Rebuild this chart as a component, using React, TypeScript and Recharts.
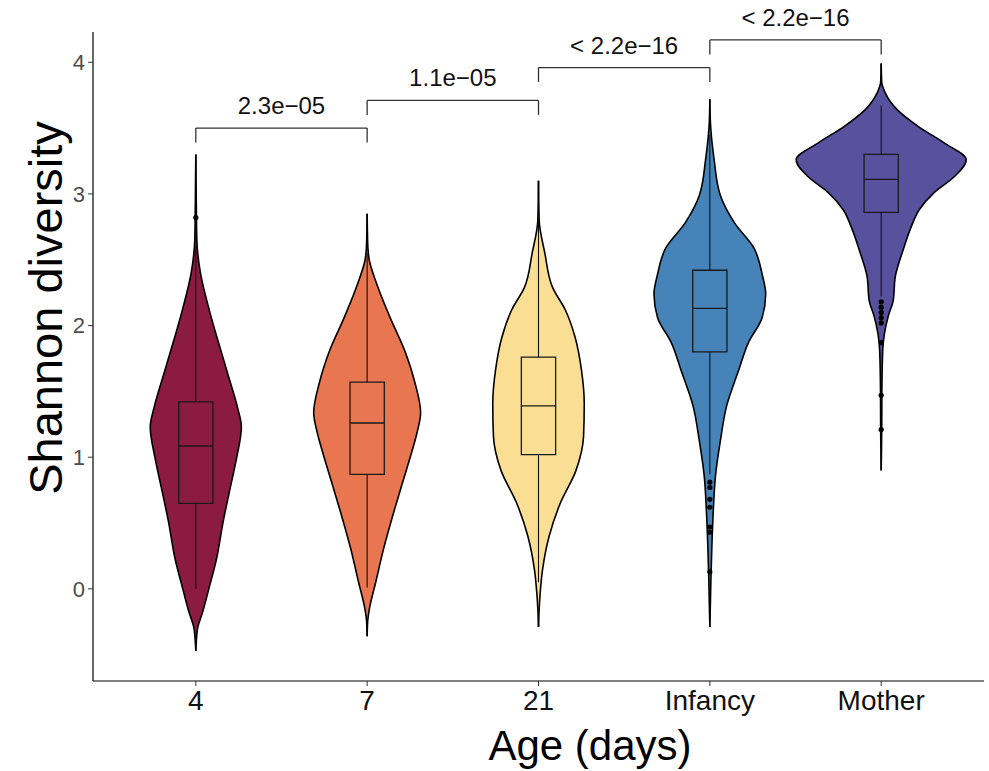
import React from 'react'
import {
  ComposedChart,
  Area,
  XAxis,
  YAxis,
  ReferenceArea,
  ReferenceLine,
  ReferenceDot,
  Label,
} from 'recharts'

const FONT = '"Liberation Sans", Arial, Helvetica, sans-serif'

const categories = ['4', '7', '21', 'Infancy', 'Mother']
const violinColors = ['#8C1B42', '#E87650', '#F9DE94', '#4683B8', '#58519E']

// violin outlines: [shannon, half width in group units], top to bottom
const violin4 = [
  [3.3, 0], [2.9, 0.003], [2.65, 0.006], [2.4, 0.027], [2.14, 0.074], [1.89, 0.128],
  [1.64, 0.185], [1.38, 0.243], [1.23, 0.266], [1.0, 0.239], [0.75, 0.198], [0.5, 0.158],
  [0.24, 0.123], [0.0, 0.076], [-0.18, 0.039], [-0.29, 0.012], [-0.4, 0.003], [-0.47, 0],
]
const violin7 = [
  [2.85, 0], [2.6, 0.004], [2.5, 0.012], [2.32, 0.055], [2.07, 0.131], [1.81, 0.219],
  [1.56, 0.28], [1.34, 0.312], [1.18, 0.29], [1.03, 0.258], [0.8, 0.205], [0.55, 0.148],
  [0.3, 0.095], [0.05, 0.05], [-0.16, 0.012], [-0.25, 0.003], [-0.36, 0],
]
const violin21 = [
  [3.1, 0], [2.8, 0.004], [2.55, 0.037], [2.29, 0.082], [2.12, 0.156], [1.91, 0.214],
  [1.66, 0.251], [1.41, 0.267], [1.16, 0.263], [0.9, 0.219], [0.65, 0.127], [0.4, 0.062],
  [0.14, 0.023], [-0.03, 0.01], [-0.15, 0.004], [-0.29, 0],
]
const violinInfancy = [
  [3.72, 0], [3.55, 0.003], [3.26, 0.025], [2.99, 0.061], [2.78, 0.144], [2.59, 0.257],
  [2.38, 0.307], [2.24, 0.326], [2.06, 0.305], [1.87, 0.225], [1.66, 0.168], [1.39, 0.098],
  [1.12, 0.061], [0.86, 0.033], [0.59, 0.02], [0.33, 0.012], [0.06, 0.006], [-0.29, 0],
]
const violinMother = [
  [3.99, 0], [3.85, 0.003], [3.77, 0.023], [3.64, 0.093], [3.51, 0.219], [3.39, 0.365],
  [3.26, 0.496], [3.13, 0.426], [3.01, 0.309], [2.88, 0.222], [2.75, 0.175], [2.57, 0.127],
  [2.37, 0.082], [2.19, 0.07], [2.07, 0.041], [1.94, 0.019], [1.81, 0.009], [1.5, 0.004],
  [1.2, 0.003], [0.9, 0],
]
const violins = [violin4, violin7, violin21, violinInfancy, violinMother]

// [whisker low, q1, median, q3, whisker high]
const boxStats = [
  [0.0, 0.65, 1.085, 1.42, 2.6],
  [0.01, 0.87, 1.26, 1.57, 2.55],
  [0.05, 1.02, 1.39, 1.76, 2.8],
  [0.87, 1.8, 2.13, 2.42, 3.45],
  [2.22, 2.86, 3.11, 3.3, 3.67],
]

const outliers4 = [2.82]
const outliers7: number[] = []
const outliers21: number[] = []
const outliersInfancy = [0.81, 0.77, 0.68, 0.62, 0.47, 0.43, 0.13]
const outliersMother = [2.18, 2.14, 2.1, 2.06, 2.02, 1.87, 1.47, 1.21]
const outliers = [outliers4, outliers7, outliers21, outliersInfancy, outliersMother]

const comparisons = [[1, 2], [2, 3], [3, 4], [4, 5]]
const bracketHeights = [3.5, 3.71, 3.96, 4.17]
const pValues = ['2.3e\u221205', '1.1e\u221205', '< 2.2e\u221216', '< 2.2e\u221216']

const yTicks = [0, 1, 2, 3, 4]

const BOX_HALF = 0.1
const TIP = 0.11

export default function App() {
  return (
    <div style={{ position: 'absolute', left: 0, top: 0, fontFamily: FONT, background: '#fff' }}>
      <ComposedChart
        width={989}
        height={771}
        layout="vertical"
        margin={{ top: 32, right: 5, bottom: 10, left: 0 }}
        style={{ fontFamily: FONT }}
      >
        <XAxis
          type="number"
          domain={[0.4, 5.6]}
          ticks={[1, 2, 3, 4, 5]}
          tickFormatter={(v) => categories[v - 1]}
          allowDataOverflow
          height={80}
          axisLine={{ stroke: '#000', strokeWidth: 1.2 }}
          tickLine={{ stroke: '#333' }}
          tickSize={5}
          tickMargin={4}
          tick={{ fill: '#111', fontSize: 28 }}
        >
          <Label
            content={({ viewBox }: any) => (
              <text
                x={590}
                y={viewBox.y + 64}
                textAnchor="middle"
                dominantBaseline="central"
                fontSize={42}
                fill="#000"
              >
                Age (days)
              </text>
            )}
          />
        </XAxis>
        <YAxis
          type="number"
          dataKey="y"
          domain={[-0.7, 4.23]}
          ticks={yTicks}
          reversed
          allowDataOverflow
          width={93}
          axisLine={{ stroke: '#000', strokeWidth: 1.2 }}
          tickLine={{ stroke: '#333' }}
          tickSize={5}
          tickMargin={3}
          tick={{ fill: '#4d4d4d', fontSize: 22 }}
        >
          <Label
            content={() => (
              <text
                x={45}
                y={308}
                transform="rotate(-90, 45, 308)"
                textAnchor="middle"
                dominantBaseline="central"
                fontSize={47}
                fill="#000"
              >
                Shannon diversity
              </text>
            )}
          />
        </YAxis>

        {violins.map((profile, i) => (
          <Area
            key={`violin-${i}`}
            data={profile.map(([y, w]) => ({ y, range: [i + 1 - w, i + 1 + w] }))}
            dataKey="range"
            type="monotone"
            fill={violinColors[i]}
            fillOpacity={1}
            stroke="#000"
            strokeWidth={1.6}
            dot={false}
            activeDot={false}
            isAnimationActive={false}
          />
        ))}

        {boxStats.map(([lo, q1], i) => (
          <ReferenceLine
            key={`wl-${i}`}
            segment={[{ x: i + 1, y: lo }, { x: i + 1, y: q1 }]}
            stroke="#111"
            strokeWidth={1.1}
          />
        ))}
        {boxStats.map(([, , , q3, hi], i) => (
          <ReferenceLine
            key={`wh-${i}`}
            segment={[{ x: i + 1, y: q3 }, { x: i + 1, y: hi }]}
            stroke="#111"
            strokeWidth={1.1}
          />
        ))}
        {boxStats.map(([, q1, , q3], i) => (
          <ReferenceArea
            key={`box-${i}`}
            x1={i + 1 - BOX_HALF}
            x2={i + 1 + BOX_HALF}
            y1={q1}
            y2={q3}
            fill="none"
            stroke="#1a1a1a"
            strokeWidth={1.3}
          />
        ))}
        {boxStats.map(([, , med], i) => (
          <ReferenceLine
            key={`med-${i}`}
            segment={[{ x: i + 1 - BOX_HALF, y: med }, { x: i + 1 + BOX_HALF, y: med }]}
            stroke="#1a1a1a"
            strokeWidth={1.3}
          />
        ))}
        {outliers.map((list, i) =>
          list.map((v, j) => (
            <ReferenceDot key={`o-${i}-${j}`} x={i + 1} y={v} r={2.6} fill="#000" stroke="none" />
          ))
        )}

        {comparisons.map(([a, b], k) => (
          <ReferenceLine
            key={`br-${k}`}
            segment={[{ x: a, y: bracketHeights[k] }, { x: b, y: bracketHeights[k] }]}
            stroke="#333"
            strokeWidth={1.3}
            label={{ value: pValues[k], position: 'top', offset: 14, fill: '#111', fontSize: 24 }}
          />
        ))}
        {comparisons.map(([a], k) => (
          <ReferenceLine
            key={`bl-${k}`}
            segment={[{ x: a, y: bracketHeights[k] }, { x: a, y: bracketHeights[k] - TIP }]}
            stroke="#333"
            strokeWidth={1.3}
          />
        ))}
        {comparisons.map(([, b], k) => (
          <ReferenceLine
            key={`bb-${k}`}
            segment={[{ x: b, y: bracketHeights[k] }, { x: b, y: bracketHeights[k] - TIP }]}
            stroke="#333"
            strokeWidth={1.3}
          />
        ))}
      </ComposedChart>
    </div>
  )
}
